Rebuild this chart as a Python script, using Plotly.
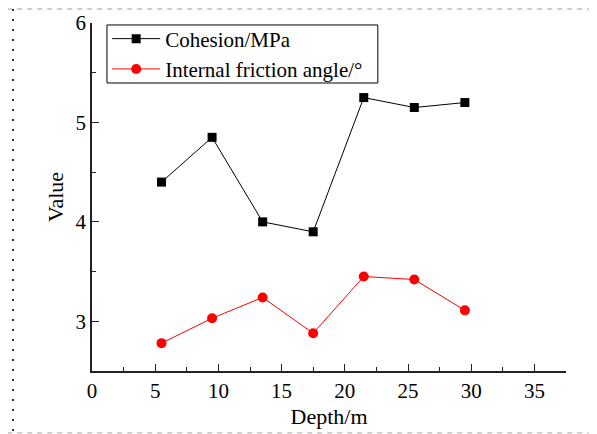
import plotly.graph_objects as go

depth = [5.5, 9.5, 13.5, 17.5, 21.5, 25.5, 29.5]
cohesion = [4.40, 4.85, 4.00, 3.90, 5.25, 5.15, 5.20]
friction = [2.78, 3.03, 3.24, 2.88, 3.45, 3.42, 3.11]

FONT = "Liberation Serif"

fig = go.Figure()
fig.add_trace(go.Scatter(x=depth, y=cohesion, mode="lines+markers", name="Cohesion/MPa",
                         line=dict(color="black", width=1),
                         marker=dict(symbol="square", size=9, color="black")))
fig.add_trace(go.Scatter(x=depth, y=friction, mode="lines+markers", name="Internal friction angle/°",
                         line=dict(color="red", width=1),
                         marker=dict(symbol="circle", size=10, color="red")))

axis_common = dict(showline=True, linecolor="#222", linewidth=1.5, ticks="inside",
                   tickcolor="#222", ticklen=7, tickwidth=1.2, showgrid=False, zeroline=False,
                   automargin=False,
                   tickfont=dict(family=FONT, size=21, color="black"),
                   title_font=dict(family=FONT, size=22, color="black"))

fig.update_xaxes(range=[0, 37.5], tick0=0, dtick=5,
                 minor=dict(ticks="inside", dtick=2.5, ticklen=4, tickcolor="#222", tickwidth=1.2),
                 title_text="Depth/m", title_standoff=7, **axis_common)
fig.update_yaxes(range=[2.5, 6], tick0=3, dtick=1,
                 minor=dict(ticks="inside", dtick=0.5, ticklen=4, tickcolor="#222", tickwidth=1.2),
                 title_text="Value", title_standoff=6, **axis_common)

# page body has an 8px margin, so the figure is offset by 8px
fig.update_layout(
    width=589, height=426,
    margin=dict(l=84, r=31, t=15, b=63, autoexpand=False),
    paper_bgcolor="white", plot_bgcolor="white",
    font=dict(family=FONT, color="black"),
    legend=dict(x=0.032, y=1.013, xanchor="left", yanchor="top",
                borderwidth=0, bgcolor="rgba(0,0,0,0)",
                font=dict(family=FONT, size=21, color="black"),
                tracegroupgap=0, itemwidth=48),
    showlegend=True,
)

# legend frame
fig.add_shape(type="rect", xref="paper", yref="paper", x0=0.0316, x1=0.603, y0=0.8276, y1=0.9943,
              line=dict(color="black", width=1), fillcolor="white", layer="above")

# page border decoration
fig.add_shape(type="line", xref="paper", yref="paper", x0=-0.2, x1=1.1, y0=1.0402, y1=1.0402,
              line=dict(color="#999", width=1.2, dash="5px,5px"))
fig.add_shape(type="line", xref="paper", yref="paper", x0=-0.1667, x1=-0.1667, y0=1.0402, y1=-0.2,
              line=dict(color="#333", width=2, dash="2px,8px"))
fig.add_shape(type="line", xref="paper", yref="paper", x0=-0.2, x1=1.1, y0=-0.178, y1=-0.178,
              line=dict(color="#bbb", width=1.2, dash="5px,5px"))

fig.write_html("out.html")
